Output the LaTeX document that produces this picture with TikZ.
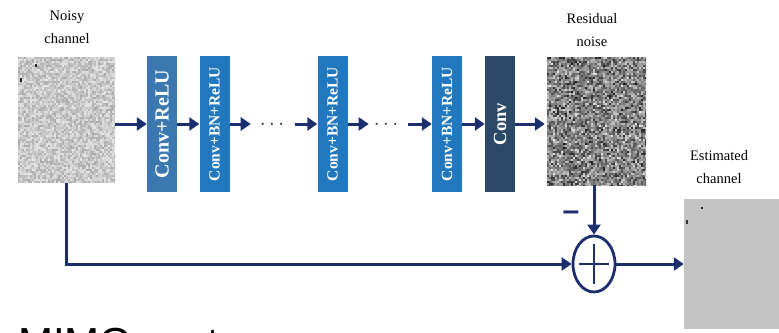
\documentclass[tikz,border=0pt]{standalone}
\usepackage{fontspec}
\setmainfont{Liberation Serif}
\newfontfamily\sansf{Liberation Sans}
\usetikzlibrary{arrows.meta,shapes.geometric}
\definecolor{navy}{HTML}{1B2F6E}
\definecolor{boxA}{HTML}{3A78AF}
\definecolor{boxB}{HTML}{2178BE}
\definecolor{boxC}{HTML}{2C4A68}
\definecolor{estgray}{HTML}{C4C4C4}
\begin{document}
\begin{tikzpicture}[x=1pt,y=-1pt,
  imgbox/.style={draw=none,inner sep=0,minimum width=#1},
  convbox/.style={fill=#1,draw=none,inner sep=0,minimum width=30pt,minimum height=136pt,text=white},
  lbl/.style={align=center,font=\fontsize{14.5}{23}\selectfont,inner sep=0},
  arr/.style={draw=navy,line width=3pt,-{Triangle[length=10pt,width=13pt]}},
  ln/.style={draw=navy,line width=3pt},
  dotsn/.style={inner sep=0,text=black!80,font=\fontsize{22}{22}\selectfont}
]
\useasboundingbox (0,0) rectangle (779,332);
\fill[white] (0,0) rectangle (779,332);

% noisy channel image
\node[imgbox=97pt,minimum height=126pt] (noisy) at (66.5,120) {};
\begin{scope}
\clip (18,57) rectangle (115,183);
\pgfmathsetseed{7}
\foreach \i in {0,...,48}{\foreach \j in {0,...,62}{
  \pgfmathtruncatemacro\g{10+24*rnd}
  \fill[black!\g] (18+2*\i,57+2*\j) rectangle ++(2,2);
}}
\fill[black!85] (35,64) rectangle ++(2,3);
\fill[black!85] (20,78) rectangle ++(2,4);
\end{scope}
\node[lbl] (noisylbl) at (67,27) {Noisy\\channel};

% conv boxes
\node[convbox=boxA] (c1) at (162,124) {\rotatebox{90}{\fontsize{20}{20}\selectfont\bfseries Conv+ReLU}};
\node[convbox=boxB] (c2) at (214.5,124) {\rotatebox{90}{\fontsize{15.5}{15.5}\selectfont\bfseries Conv+BN+ReLU}};
\node[dotsn] (d1) at (272,125) {$\cdots$};
\node[convbox=boxB] (c3) at (332.5,124) {\rotatebox{90}{\fontsize{15.5}{15.5}\selectfont\bfseries Conv+BN+ReLU}};
\node[dotsn] (d2) at (386,125) {$\cdots$};
\node[convbox=boxB] (c4) at (447,124) {\rotatebox{90}{\fontsize{15.5}{15.5}\selectfont\bfseries Conv+BN+ReLU}};
\node[convbox=boxC] (c5) at (500,124) {\rotatebox{90}{\fontsize{18.5}{18.5}\selectfont\bfseries Conv}};

% residual noise image
\node[imgbox=99pt,minimum height=128pt] (res) at (596.5,121) {};
\begin{scope}
\clip (547,57) rectangle (646,185);
\pgfmathsetseed{11}
\foreach \i in {0,...,49}{\foreach \j in {0,...,64}{
  \pgfmathtruncatemacro\g{8+42*rnd+42*rnd}
  \fill[black!\g] (547+2*\i,57+2*\j) rectangle ++(2,2);
}}
\end{scope}
\node[lbl] (reslbl) at (592,30) {Residual\\noise};

% estimated channel image
\node[imgbox=101pt,minimum height=130pt,fill=estgray] (est) at (734.5,264) {};
\fill[black!80] (701,207) rectangle ++(2,2);
\fill[black!80] (686,220) rectangle ++(2,4);
\node[lbl] (estlbl) at (719,167) {Estimated\\channel};

% sum
\node[ellipse,draw=navy,line width=2.8pt,minimum width=42pt,minimum height=56pt,inner sep=0] (sum) at (594,264) {};
\draw[ln,line width=2.6pt] ([xshift=-15pt]sum.center) -- ([xshift=15pt]sum.center);
\draw[ln,line width=2.6pt] ([yshift=-20pt]sum.center) -- ([yshift=20pt]sum.center);
\node[inner sep=0,text=navy,font=\sansf\bfseries\fontsize{30}{30}\selectfont] (minus) at (571,216) {–};

% connectors
\draw[arr] (noisy.east |- c1.west) -- (c1.west);
\draw[arr] (c1.east) -- (c2.west);
\draw[arr,shorten >=9pt] (c2.east) -- (d1.west |- c2.east);
\draw[arr,shorten <=11pt] (d1.east |- c3.west) -- (c3.west);
\draw[arr,shorten >=5pt] (c3.east) -- (d2.west |- c3.east);
\draw[arr,shorten <=10pt] (d2.east |- c4.west) -- (c4.west);
\draw[arr] (c4.east) -- (c5.west);
\draw[arr,shorten >=2pt] (c5.east) -- (res.west |- c5.east);
\draw[arr] (sum.north |- res.south) -- (sum.north);
\draw[arr] (noisy.south) |- (sum.west);
\draw[arr] (sum.east) -- (est.west);

% bottom clipped text
\node[anchor=base west,inner sep=0,font=\sansf\fontsize{42}{42}\selectfont] (mimo) at (18,357) {MIMO system};
\end{tikzpicture}
\end{document}
